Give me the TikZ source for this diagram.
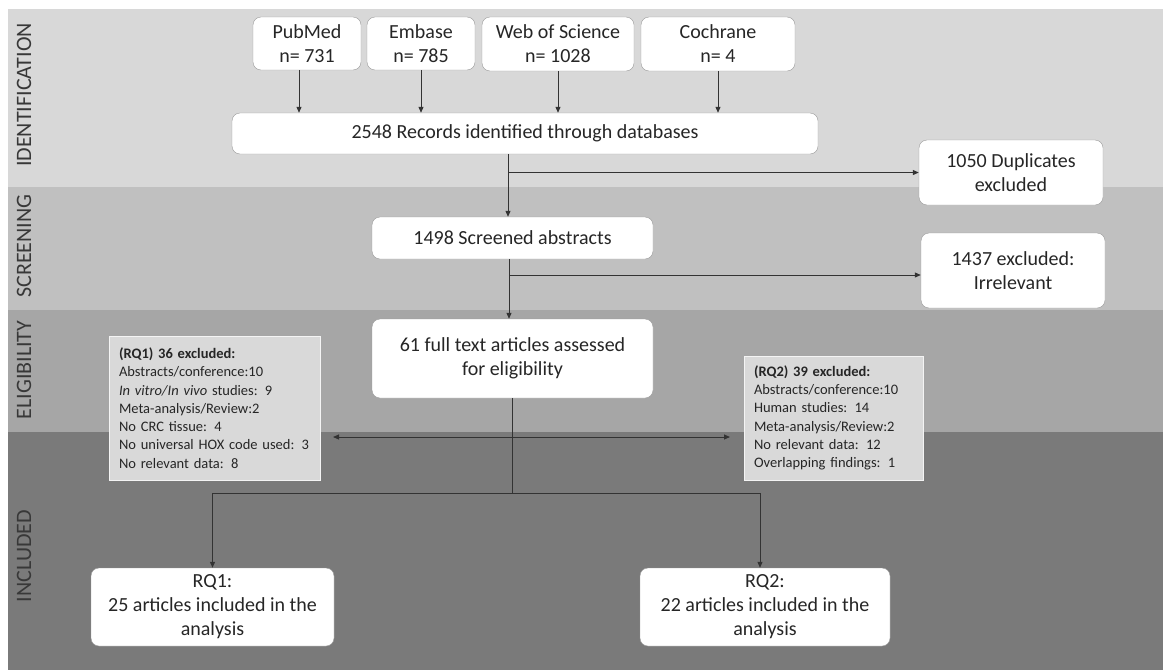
\documentclass[tikz,border=0pt]{standalone}
\usepackage{fontspec}
\setmainfont{Carlito}
\usetikzlibrary{arrows.meta}
\definecolor{bandA}{HTML}{D8D8D8}
\definecolor{bandB}{HTML}{C0C0C0}
\definecolor{bandC}{HTML}{A6A6A6}
\definecolor{bandD}{HTML}{7A7A7A}
\definecolor{exfill}{HTML}{D9D9D9}
\definecolor{inkc}{HTML}{262626}
\begin{document}
\begin{tikzpicture}[x=1pt,y=-1pt,
  box/.style={draw=black!40, fill=white, rounded corners=8pt, align=center,
    font=\fontsize{20}{24}\selectfont, inner sep=0pt, text=inkc},
  exbox/.style={draw=white!70!exfill, fill=exfill, align=left, inner xsep=10pt, inner ysep=0pt,
    font=\fontsize{14.5}{18.3}\selectfont, text=inkc},
  ln/.style={draw=black!80, line width=1pt},
  arr/.style={ln, -{Triangle[length=6pt,width=5pt]}},
  darr/.style={ln, {Triangle[length=6pt,width=5pt]}-{Triangle[length=6pt,width=5pt]}},
  phase/.style={rotate=90, font=\fontsize{22}{26}\selectfont, text=black!78}]
\useasboundingbox (0,0) rectangle (1163,670);
\fill[white] (0,0) rectangle (1163,670);
% bands
\fill[bandA] (8,9) rectangle (1163,187);
\fill[bandB] (8,187) rectangle (1163,310);
\fill[bandC] (8,310) rectangle (1163,432);
\fill[bandD] (8,432) rectangle (1163,670);
\node[phase] (pid) at (24,95) {IDENTIFICATION};
\node[phase] (psc) at (24,246) {SCREENING};
\node[phase] (pel) at (24,370) {ELIGIBILITY};
\node[phase] (pin) at (24,556) {INCLUDED};
% databases
\node[box, minimum width=108pt, minimum height=53pt] (pub) at (307,43.5) {PubMed\\n= 731};
\node[box, minimum width=108pt, minimum height=53pt] (emb) at (421,43.5) {Embase\\n= 785};
\node[box, minimum width=152pt, minimum height=54pt] (wos) at (558,44) {Web of Science\\n= 1028};
\node[box, minimum width=154pt, minimum height=54pt] (coch) at (718,44) {Cochrane\\n= 4};
\node[box, minimum width=586pt, minimum height=41pt] (rec) at (525,133.5) {2548 Records identified through databases};
\node[box, minimum width=184pt, minimum height=65pt] (dup) at (1011,172.5) {1050 Duplicates\\excluded};
\node[box, minimum width=281pt, minimum height=42pt] (scr) at (512.5,238) {1498 Screened abstracts};
\node[box, minimum width=184pt, minimum height=75pt] (irr) at (1013,270.5) {1437 excluded:\\Irrelevant};
\node[box, minimum width=281pt, minimum height=79pt] (full) at (512.5,358.5) {61 full text articles assessed\\for eligibility};
\node[exbox, text width=191pt, minimum height=144pt] (ex1) at (214.5,408) {\textbf{(RQ1) 36 excluded:}\\Abstracts/conference:10\\\textit{In vitro/In vivo} studies: 9\\Meta-analysis/Review:2\\No CRC tissue: 4\\No universal HOX code used: 3\\No relevant data: 8};
\node[exbox, text width=159pt, minimum height=124pt] (ex2) at (833.5,418) {\textbf{(RQ2) 39 excluded:}\\Abstracts/conference:10\\Human studies: 14\\Meta-analysis/Review:2\\No relevant data: 12\\Overlapping findings: 1};
\node[box, minimum width=243pt, minimum height=78pt] (rq1) at (212.5,607) {RQ1:\\25 articles included in the\\analysis};
\node[box, minimum width=250pt, minimum height=78pt] (rq2) at (765,607) {RQ2:\\22 articles included in the\\analysis};
% connectors
\draw[arr] ([xshift=-8pt]pub.south) -- ([xshift=-8pt]pub.south |- rec.north);
\draw[arr] (emb.south) -- (emb.south |- rec.north);
\draw[arr] (wos.south) -- (wos.south |- rec.north);
\draw[arr] (coch.south) -- (coch.south |- rec.north);
\coordinate (r1) at ([xshift=-17pt]rec.south);
\draw[arr] (r1) -- (r1 |- scr.north);
\draw[arr] (r1 |- dup.west) -- (dup.west);
\coordinate (s1) at ([xshift=-3.5pt]scr.south);
\draw[arr] (s1) -- (s1 |- full.north);
\coordinate (s2) at (509,275);
\draw[arr] (s2) -- (s2 -| irr.west);
\coordinate (dl) at (333,437);
\coordinate (dr) at (730,437);
\draw[darr] (dl) -- (dr);
\coordinate (jl) at (212.5,493);
\coordinate (jr) at (760,493);
\draw[ln] (full.south) -- (full.south |- jl);
\draw[ln] (jl) -- (jr);
\draw[arr] (jl) -- (jl |- rq1.north);
\draw[arr] (jr) -- (jr |- rq2.north);
\end{tikzpicture}
\end{document}
